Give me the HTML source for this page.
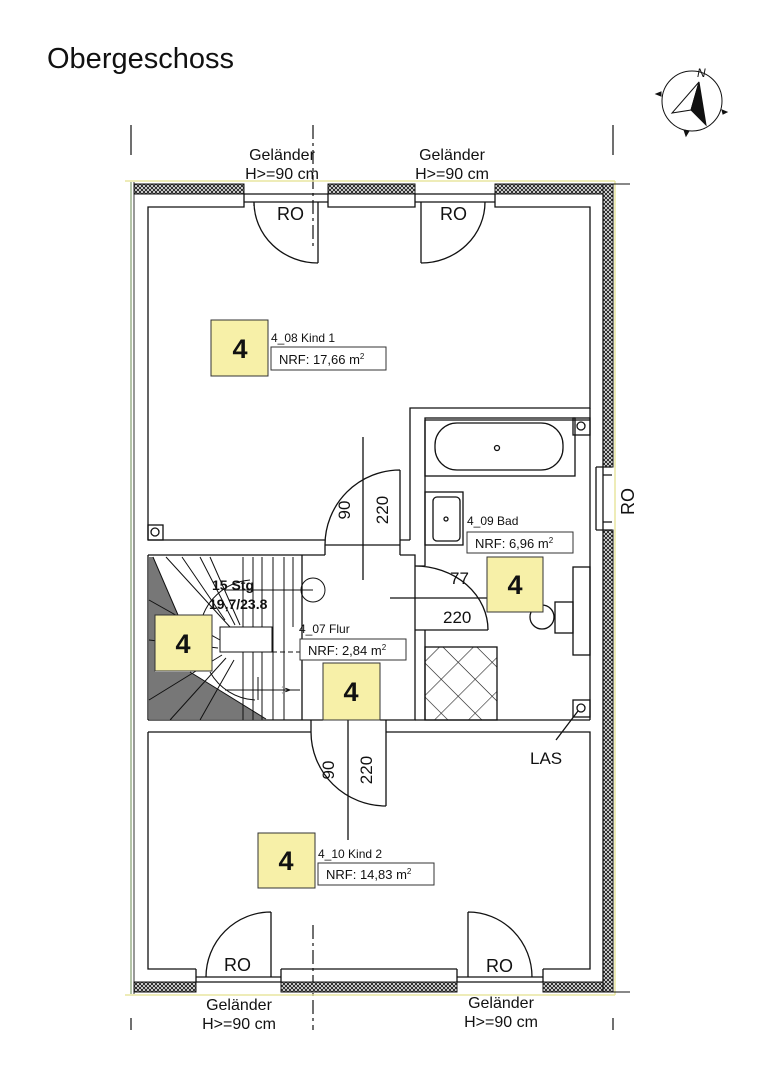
<!DOCTYPE html>
<html><head><meta charset="utf-8"><style>
html,body{margin:0;padding:0;background:#fff;}
svg{display:block;}
text{font-family:"Liberation Sans",Arial,sans-serif;fill:#111;}
</style></head><body>
<svg width="764" height="1080" viewBox="0 0 764 1080" xmlns="http://www.w3.org/2000/svg">
<defs>
<pattern id="h" width="4" height="4" patternUnits="userSpaceOnUse">
<rect width="4" height="4" fill="#fff"/>
<path d="M0,0L4,4M4,0L0,4" stroke="#222" stroke-width="1"/>
</pattern>
<pattern id="t" width="24" height="24" patternUnits="userSpaceOnUse" patternTransform="rotate(45)">
<path d="M0,0H24M0,0V24" stroke="#222" stroke-width="1.2" fill="none"/>
</pattern>
</defs>
<rect width="764" height="1080" fill="#fff"/>
<text x="47" y="68" font-size="29">Obergeschoss</text>

<!-- compass -->
<g stroke="#111" fill="none">
<circle cx="692" cy="101" r="30" stroke-width="1"/>
<polygon points="699,82 672,113 691,110" fill="#fff" stroke-width="1"/>
<polygon points="699,82 706,125 691,110" fill="#111"/>
<path d="M661,92l-5,2 5,2zM722,110l5,2-4,2zM684,130l2,6 3,-5z" fill="#111"/>
</g>
<text x="697" y="77" font-size="12" font-style="italic">N</text>

<!-- axis ticks -->
<g stroke="#111" stroke-width="1.2">
<line x1="131" y1="125" x2="131" y2="155"/><line x1="613" y1="125" x2="613" y2="155"/>
<line x1="131" y1="1018" x2="131" y2="1030"/><line x1="613" y1="1018" x2="613" y2="1030"/>
<line x1="313" y1="125" x2="313" y2="250" stroke-dasharray="14,4,3,4"/>
<line x1="313" y1="925" x2="313" y2="1030" stroke-dasharray="14,4,3,4"/>
</g>
<line x1="125" y1="181" x2="615" y2="181" stroke="#e8e6a0" stroke-width="1.5"/>
<line x1="615" y1="181" x2="615" y2="995" stroke="#e8e6a0" stroke-width="1.5"/>
<line x1="125" y1="995" x2="615" y2="995" stroke="#e8e6a0" stroke-width="1.5"/>
<line x1="131" y1="182" x2="131" y2="994" stroke="#6a8a50" stroke-width="1"/>
<line x1="134" y1="182" x2="134" y2="994" stroke="#333" stroke-width="1"/>
<line x1="600" y1="184" x2="630" y2="184" stroke="#111"/>
<line x1="600" y1="992" x2="630" y2="992" stroke="#111"/>

<!-- hatched walls -->
<g stroke="#111" stroke-width="1">
<rect x="134" y="184" width="110" height="10" fill="url(#h)"/>
<rect x="328" y="184" width="87" height="10" fill="url(#h)"/>
<rect x="495" y="184" width="108" height="10" fill="url(#h)"/>
<rect x="603" y="184" width="10" height="283" fill="url(#h)"/>
<rect x="603" y="530" width="10" height="462" fill="url(#h)"/>
<rect x="134" y="982" width="62" height="10" fill="url(#h)"/>
<rect x="281" y="982" width="176" height="10" fill="url(#h)"/>
<rect x="543" y="982" width="60" height="10" fill="url(#h)"/>
</g>

<g stroke="#111" stroke-width="1.3" fill="none">
<!-- top wall inner -->
<path d="M148,540V207H244V194M328,194V207H415V194M495,194V207H590V408H410V540"/>
<path d="M244,194H328M244,202H328M415,194H495M415,202H495"/>
<path d="M254,202V206M318,202V263M254,202A64,61 0 0 0 318,263"/>
<path d="M421,202V263M485,202A64,61 0 0 1 421,263"/>
<!-- right wall -->
<path d="M603,194V992M590,408V720"/>
<path d="M596,467H612M596,530H612M596,467V530M603,475h9M603,522h9"/>
<!-- Kind1 bottom -->
<path d="M148,540H325M400,540H410M148,555H302M302,555V720M148,555V720M148,720H323M380,720H415V555H400M325,555H302"/>
<path d="M325,545V555M400,545V555M325,545H400"/>
<path d="M400,470V545M325,545A75,75 0 0 1 400,470"/>
<line x1="363" y1="437" x2="363" y2="580"/>
<!-- bad -->
<path d="M425,420H590M425,420V566M425,630V720H590M415,720H425"/>
<path d="M415,566H425M415,630H488M488,630A73,64 0 0 0 415,566"/>
<line x1="390" y1="598" x2="487" y2="598"/>
<rect x="425" y="418" width="150" height="58"/>
<rect x="435" y="423" width="128" height="47" rx="22"/>
<circle cx="497" cy="448" r="2.5"/>
<rect x="425" y="492" width="38" height="53"/>
<rect x="433" y="497" width="27" height="44" rx="4"/>
<circle cx="446" cy="519" r="2"/>
<rect x="425" y="647" width="72" height="73" fill="url(#t)"/>
<rect x="573" y="567" width="17" height="88"/>
<rect x="555" y="602" width="18" height="31"/>
<circle cx="542" cy="617" r="12"/>
<rect x="148" y="525" width="15" height="15"/><circle cx="155" cy="532" r="4"/>
<rect x="573" y="418" width="17" height="17"/><circle cx="581" cy="426" r="4"/>
<rect x="573" y="700" width="17" height="17"/><circle cx="581" cy="708" r="4"/>
<line x1="578" y1="711" x2="556" y2="740"/>
<!-- kind2 -->
<path d="M148,732H311M386,732H590V969H543M148,732V969H196M281,969H457"/>
<path d="M311,720V732M386,720V732"/>
<path d="M386,732V806M311,732A75,74 0 0 0 386,806"/>
<line x1="348" y1="720" x2="348" y2="840"/>
<path d="M196,969V982M281,969V982M457,969V982M543,969V982"/>
<path d="M196,977H281M196,982H281M457,977H543M457,982H543"/>
<path d="M271,977V912M206,977A65,65 0 0 1 271,912"/>
<path d="M468,977V912M532,977A64,65 0 0 0 468,912"/>
</g>

<!-- stair -->
<polygon points="149,557 153,557 178,615 155,615 155,672 190,672 266,719 149,719" fill="#777"/>
<g stroke="#111" stroke-width="1" fill="none">
<path d="M153,557L178,615M190,672L266,719"/>
<path d="M243,557V720M253,557V720M262,557V720M273,557V720M284,557V720M293,557V627"/>
<path d="M166,557L230,627M182,557L225,620M200,557L235,625M210,557L240,625"/>
<path d="M149,600L220,640M149,640L218,648M149,700L222,655M170,720L226,658M200,720L234,660"/>
<path d="M200,627A55,55 0 0 1 250,580"/>
<path d="M210,672A55,55 0 0 0 255,700"/>
<path d="M225,590H313"/>
<circle cx="313" cy="590" r="12"/>
<rect x="220" y="627" width="52" height="25" fill="#fff"/>
<path d="M272,652H302M225,690H300M290,690l-8,-3M290,690l-8,3" stroke-dasharray="5,3"/>
<path d="M225,690H300"/>
<path d="M258,677V700"/>
</g>
<text x="212" y="590" font-size="14" font-weight="bold">15 Stg</text>
<text x="209" y="609" font-size="14" font-weight="bold">19,7/23.8</text>

<!-- yellow boxes -->
<g fill="#f7f0a8" stroke="#333" stroke-width="1">
<rect x="211" y="320" width="57" height="56"/>
<rect x="155" y="615" width="57" height="56"/>
<rect x="323" y="663" width="57" height="57"/>
<rect x="487" y="557" width="56" height="55"/>
<rect x="258" y="833" width="57" height="55"/>
</g>
<g font-size="27" font-weight="bold" text-anchor="middle">
<text x="240" y="358">4</text><text x="183" y="653">4</text><text x="351" y="701">4</text>
<text x="515" y="594">4</text><text x="286" y="870">4</text>
</g>

<!-- labels -->
<g font-size="12">
<text x="271" y="342">4_08 Kind 1</text>
<text x="467" y="525">4_09 Bad</text>
<text x="299" y="633">4_07 Flur</text>
<text x="318" y="858">4_10 Kind 2</text>
</g>
<g fill="#fff" stroke="#333" stroke-width="1">
<rect x="271" y="347" width="115" height="23"/>
<rect x="467" y="532" width="106" height="21"/>
<rect x="300" y="639" width="106" height="21"/>
<rect x="318" y="863" width="116" height="22"/>
</g>
<g font-size="13">
<text x="279" y="364">NRF: 17,66 m<tspan font-size="8" dy="-5">2</tspan></text>
<text x="475" y="548">NRF: 6,96 m<tspan font-size="8" dy="-5">2</tspan></text>
<text x="308" y="655">NRF: 2,84 m<tspan font-size="8" dy="-5">2</tspan></text>
<text x="326" y="879">NRF: 14,83 m<tspan font-size="8" dy="-5">2</tspan></text>
</g>
<g font-size="17">
<text transform="translate(350,510) rotate(-90)" text-anchor="middle">90</text>
<text transform="translate(388,510) rotate(-90)" text-anchor="middle">220</text>
<text transform="translate(334,770) rotate(-90)" text-anchor="middle">90</text>
<text transform="translate(372,770) rotate(-90)" text-anchor="middle">220</text>
<text x="450" y="584">77</text>
<text x="443" y="623">220</text>
<text x="530" y="764">LAS</text>
</g>
<g font-size="18">
<text x="277" y="220">RO</text><text x="440" y="220">RO</text>
<text x="224" y="971">RO</text><text x="486" y="972">RO</text>
<text transform="translate(634,515) rotate(-90)">RO</text>
</g>
<g font-size="16" text-anchor="middle">
<text x="282" y="160">Geländer</text><text x="282" y="179">H&gt;=90 cm</text>
<text x="452" y="160">Geländer</text><text x="452" y="179">H&gt;=90 cm</text>
<text x="239" y="1010">Geländer</text><text x="239" y="1029">H&gt;=90 cm</text>
<text x="501" y="1008">Geländer</text><text x="501" y="1027">H&gt;=90 cm</text>
</g>
</svg>
</body></html>
